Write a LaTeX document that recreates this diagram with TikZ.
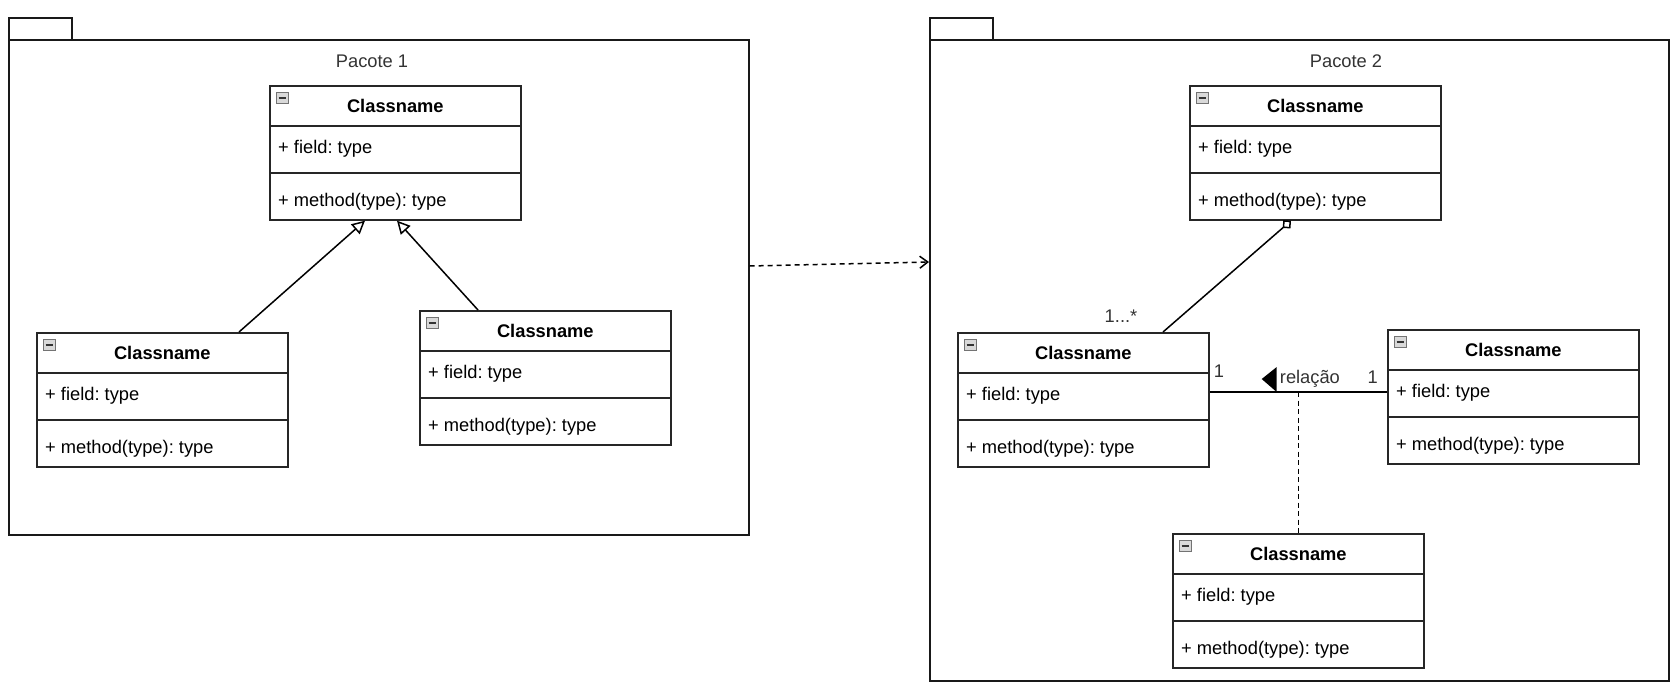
\documentclass[tikz,border=0pt]{standalone}
\usepackage{fontspec}
\setmainfont{Liberation Sans}
\usepackage{tikz}
\usetikzlibrary{calc,arrows.meta}
\frenchspacing

\definecolor{labelgray}{HTML}{333333}

% one UML class: name, x, y of its top left corner
\newcommand{\umlclass}[3]{%
    \node[classbox, anchor=north west] (#1) at (#2,#3) {};
    \draw[boxline] ($(#1.north west)+(0,41)$) -- ($(#1.north east)+(0,41)$);
    \draw[boxline] ($(#1.north west)+(0,88)$) -- ($(#1.north east)+(0,88)$);
    \node[collapse, anchor=north west] (#1-icon) at ($(#1.north west)+(7,7)$) {};
    \draw[line width=1.6pt, black!80] ($(#1-icon.west)+(2.5,0)$) -- ($(#1-icon.east)+(-2.5,0)$);
    \node[classname, anchor=base] (#1-name) at ($(#1.north)+(0,27)$) {Classname};
    \node[member, anchor=base west] (#1-field) at ($(#1.north west)+(9,68)$) {+ field: type};
    \node[member, anchor=base west] (#1-method) at ($(#1.north west)+(9,121)$) {+ method(type): type};
}

\begin{document}
\begin{tikzpicture}[x=1pt, y=-1pt,
    classbox/.style={draw=black!85, line width=1.7pt, fill=white, minimum width=251pt, minimum height=134pt, inner sep=0pt},
    boxline/.style={draw=black!85, line width=1.7pt},
    collapse/.style={draw=gray!90!black, fill=gray!30, line width=0.9pt, minimum width=12pt, minimum height=11pt, inner sep=0pt},
    classname/.style={font=\fontsize{18.3}{22}\selectfont\bfseries, inner sep=0pt},
    member/.style={font=\fontsize{18.3}{22}\selectfont, inner sep=0pt},
    pkgbox/.style={draw=black!90, line width=1.7pt, inner sep=0pt, anchor=north west},
    pkglabel/.style={font=\fontsize{18.3}{22}\selectfont, text=labelgray, inner sep=0pt, anchor=base},
    multlabel/.style={font=\fontsize{18.3}{22}\selectfont, text=labelgray, inner sep=0pt},
    inherit/.style={line width=1.5pt, -{Triangle[open, length=13pt, width=13pt]}},
    aggreg/.style={line width=1.5pt, {Diamond[open, length=11pt, width=11pt]}-},
    assoc/.style={line width=1.5pt},
    depend/.style={line width=1.5pt, dash pattern=on 5pt off 4pt, -{Straight Barb[length=8pt, width=12pt]}},
    assocdash/.style={line width=1.5pt, dash pattern=on 5pt off 3.5pt}
]
    \useasboundingbox (0,0) rectangle (1678,688);

    % packages
    \node[pkgbox, minimum width=63pt, minimum height=22pt] (pkg1tab) at (8,17) {};
    \node[pkgbox, minimum width=740pt, minimum height=495pt] (pkg1) at (8,39) {};
    \node[pkglabel] (pkg1name) at (372,67) {Pacote 1};

    \node[pkgbox, minimum width=63pt, minimum height=22pt] (pkg2tab) at (929,17) {};
    \node[pkgbox, minimum width=739pt, minimum height=641pt] (pkg2) at (929,39) {};
    \node[pkglabel] (pkg2name) at (1346,67) {Pacote 2};

    % classes of Pacote 1
    \umlclass{A}{269}{85}
    \umlclass{B}{36}{332}
    \umlclass{C}{419}{310}

    % classes of Pacote 2
    \umlclass{D}{1189}{85}
    \umlclass{F}{957}{332}
    \umlclass{G}{1387}{329}
    \umlclass{E}{1172}{533}

    % inheritance
    \draw[inherit] ($(B.north west)+(203,0)$) -- ($(A.south west)+(96,0)$);
    \draw[inherit] ($(C.north west)+(59,0)$) -- ($(A.south west)+(128,0)$);

    % dependency between the packages
    \draw[depend] ($(pkg1.north east)+(0,227)$) -- ($(pkg2.north west)+(0,223)$);

    % aggregation
    \draw[aggreg] ($(D.south west)+(102,0)$) -- ($(F.north west)+(206,0)$);
    \node[multlabel, anchor=base] (mult1) at ($(F.north west)+(164,-10)$) {1...*};

    % association with its class
    \coordinate (relF) at ($(F.north east)+(0,60)$);
    \coordinate (relG) at (relF -| G.west);
    \draw[assoc] (relF) -- (relG);
    \node[multlabel, anchor=base west] (multF) at ($(relF)+(4,-15)$) {1};
    \node[multlabel, anchor=base east] (multG) at ($(relG)+(-9,-9)$) {1};
    \node[multlabel, anchor=base west] (rel) at ($(relF)+(70,-9)$) {relação};
    \fill ($(rel.base west)+(-18,-4)$) -- ($(rel.base west)+(-3,-16)$) -- ($(rel.base west)+(-3,9)$) -- cycle;

    \coordinate (relmid) at (relF -| E.north);
    \draw[assocdash] (relmid) -- (E.north);
\end{tikzpicture}
\end{document}
